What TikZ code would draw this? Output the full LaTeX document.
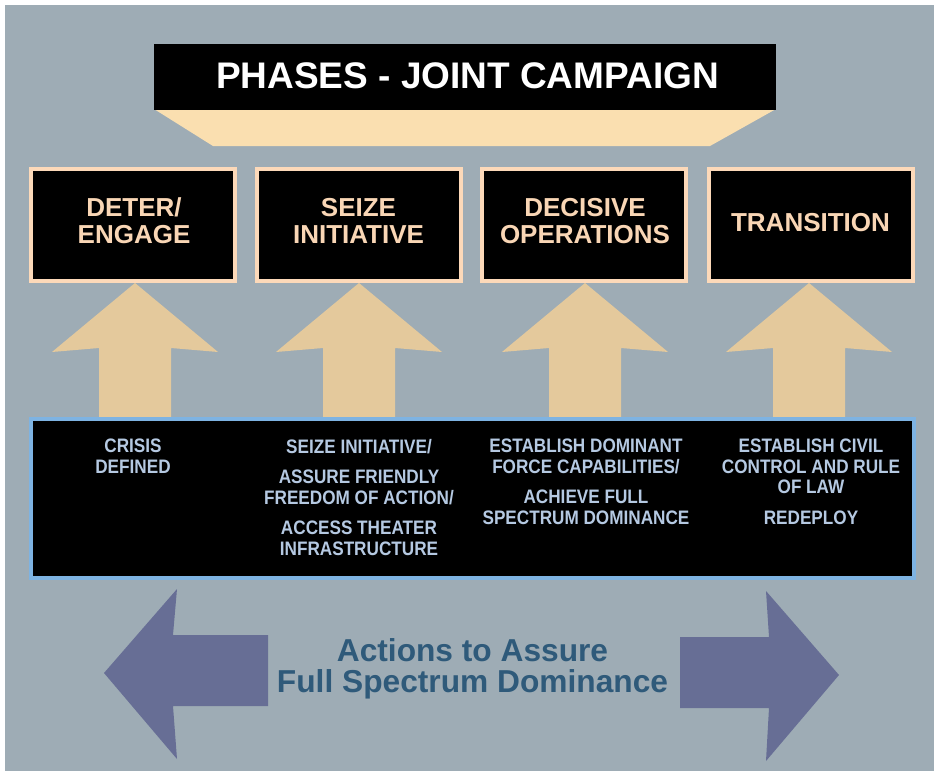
\documentclass[tikz,border=0pt]{standalone}
\usepackage{fontspec}
\setmainfont{Liberation Sans}
\newfontfamily\narrowfont{Liberation Sans}[FakeStretch=0.88]
\definecolor{bggray}{HTML}{9EACB5}
\definecolor{peachline}{HTML}{FCD9B9}
\definecolor{peachtext}{HTML}{F9D6B5}
\definecolor{trapcol}{HTML}{FADFB0}
\definecolor{arrowbeige}{HTML}{E4C99C}
\definecolor{blueline}{HTML}{7EB3E2}
\definecolor{coltextc}{HTML}{B5C9E2}
\definecolor{slate}{HTML}{676E95}
\definecolor{tealtext}{HTML}{2F5A7A}
\begin{document}
\begin{tikzpicture}[x=1pt,y=-1pt,
  phasebox/.style={fill=black, draw=peachline, line width=4pt, minimum width=204pt, minimum height=112pt, inner sep=0pt},
  phasetext/.style={text=peachtext, font=\bfseries\fontsize{26}{26.7}\selectfont, align=center, inner sep=0pt},
  uparrow/.style={fill=arrowbeige},
  coltext/.style={text=coltextc, font=\narrowfont\bfseries\fontsize{19.5}{20.5}\selectfont, align=center, inner sep=0pt, anchor=north},
  sidearrow/.style={fill=slate}
]
\useasboundingbox (0,0) rectangle (936,773);
\fill[white] (0,0) rectangle (936,773);
\fill[bggray] (5,5) rectangle (934,771);

% title and trapezoid
\fill[trapcol] (154,109) -- (776,109) -- (710,146) -- (213,146) -- cycle;
\node[fill=black, minimum width=622pt, minimum height=66pt, inner sep=0pt] (title) at (465,77) {};
\node[text=white, font=\bfseries\fontsize{37}{40}\selectfont, inner sep=0pt, anchor=base] (titletext) at (467.5,89) {PHASES - JOINT CAMPAIGN};

% upward arrows
\foreach \c in {135,359,585,809}{
  \fill[uparrow] ({\c-36},417) -- ({\c-36},348) -- ({\c-83},352) -- (\c,283)
     -- ({\c+83},352) -- ({\c+36},348) -- ({\c+36},417) -- cycle;
}

% phase boxes
\node[phasebox] (p1) at (133,225) {};
\node[phasebox] (p2) at (358.5,225) {};
\node[phasebox] (p3) at (583.5,225) {};
\node[phasebox] (p4) at (810.5,225) {};
\node[phasetext, anchor=base] (t1) at (134,243.3) {DETER/\\ENGAGE};
\node[phasetext, anchor=base] (t2) at (358.5,243.3) {SEIZE\\INITIATIVE};
\node[phasetext, anchor=base] (t3) at (585,243.3) {DECISIVE\\OPERATIONS};
\node[phasetext, anchor=base] (t4) at (810.5,231.7) {TRANSITION};

% objectives box
\node[fill=black, draw=blueline, line width=4pt, minimum width=883pt, minimum height=159pt, inner sep=0pt] (obj) at (472.5,498.5) {};
\node[coltext] (c1) at (133,439) {CRISIS\\DEFINED};
\node[coltext] (c2) at (359,439) {SEIZE INITIATIVE/\\[10pt]ASSURE FRIENDLY\\FREEDOM OF ACTION/\\[10pt]ACCESS THEATER\\INFRASTRUCTURE};
\node[coltext] (c3) at (586,439) {ESTABLISH DOMINANT\\FORCE CAPABILITIES/\\[10pt]ACHIEVE FULL\\SPECTRUM DOMINANCE};
\node[coltext] (c4) at (811,439) {ESTABLISH CIVIL\\CONTROL AND RULE\\OF LAW\\[10pt]REDEPLOY};

% side arrows
\fill[sidearrow] (104,673) -- (177,589) -- (173,635) -- (268,635) -- (268,706) -- (173,706) -- (177,759) -- cycle;
\fill[sidearrow] (839,675) -- (766,591) -- (769,637) -- (680,637) -- (680,708) -- (769,708) -- (766,761) -- cycle;
\node[text=tealtext, font=\bfseries\fontsize{31.7}{31}\selectfont, align=center, inner sep=0pt, anchor=base] (actions) at (472.5,692) {Actions to Assure\\Full Spectrum Dominance};
\end{tikzpicture}
\end{document}
